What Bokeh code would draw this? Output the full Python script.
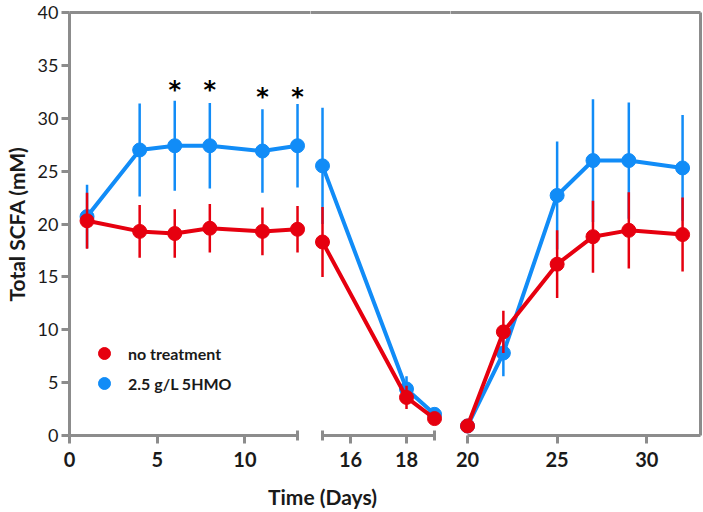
from bokeh.plotting import figure
from bokeh.layouts import row, column
from bokeh.models import (Range1d, LinearAxis, FixedTicker, Legend, LegendItem,
                          Label, ColumnDataSource)
from bokeh.core.properties import value
from bokeh.embed import file_html
from bokeh.resources import INLINE

# ---------------- data ----------------
days_seg1 = [1, 4, 6, 8, 11, 13]
days_seg2 = [15, 18, 19]
days_seg3 = [20, 22, 25, 27, 29, 32]

hmo_seg1 = [20.7, 27.0, 27.4, 27.4, 26.9, 27.4]
hmo_sd_seg1 = [3.0, 4.4, 4.25, 4.05, 3.95, 3.95]
hmo_seg2 = [25.5, 4.4, 2.0]
hmo_sd_seg2 = [5.5, 1.2, 0.3]
hmo_seg3 = [0.9, 7.8, 22.7, 26.0, 26.0, 25.3]
hmo_sd_seg3 = [0.2, 2.2, 5.1, 5.8, 5.5, 5.0]

ctrl_seg1 = [20.3, 19.3, 19.1, 19.6, 19.3, 19.5]
ctrl_sd_seg1 = [2.65, 2.5, 2.3, 2.3, 2.25, 2.2]
ctrl_seg2 = [18.3, 3.6, 1.6]
ctrl_sd_seg2 = [3.3, 1.1, 0.3]
ctrl_seg3 = [0.9, 9.8, 16.2, 18.8, 19.4, 19.0]
ctrl_sd_seg3 = [0.2, 2.0, 3.2, 3.4, 3.6, 3.5]

star_days = [6, 8, 11, 13]
star_y = [32.7, 32.7, 32.0, 32.0]

y_ticks = [0, 5, 10, 15, 20, 25, 30, 35, 40]
x_ticks_seg1 = [0, 5, 10]
x_caps_seg1 = [13]
x_ticks_seg2 = [16, 18]
x_caps_seg2 = [15, 19]
x_ticks_seg3 = [20, 25, 30]

series_names = ["no treatment", "2.5 g/L 5HMO"]

# ---------------- style ----------------
RED = "#E6000F"
BLUE = "#118CF7"
AXIS = "#8C8C8C"
TXT = "#1a1a1a"
FONT = "Lato"

yr = Range1d(0, 40)


def make_fig(width, xr, left_border, right_border, has_y):
    p = figure(width=width, height=480, x_range=Range1d(*xr), y_range=yr,
               toolbar_location=None, output_backend="svg",
               min_border_left=left_border, min_border_right=right_border,
               min_border_top=12, min_border_bottom=45,
               y_axis_location="left" if has_y else None)
    p.outline_line_color = None
    p.xgrid.visible = False
    p.ygrid.visible = False
    p.background_fill_color = "white"
    p.border_fill_color = "white"
    return p


def style_x(p, ticks, caps, bounds):
    ax = p.xaxis[0]
    ax.ticker = FixedTicker(ticks=ticks, minor_ticks=caps)
    ax.bounds = bounds
    ax.axis_line_color = AXIS
    ax.axis_line_width = 3
    ax.major_tick_line_color = AXIS
    ax.major_tick_line_width = 3
    ax.major_tick_in = 0
    ax.major_tick_out = 8
    ax.minor_tick_line_color = AXIS
    ax.minor_tick_line_width = 3
    ax.minor_tick_in = 5
    ax.minor_tick_out = 5
    ax.major_label_text_font = FONT
    ax.major_label_text_font_size = "20px"
    ax.major_label_text_font_style = "bold"
    ax.major_label_text_color = TXT
    ax.major_label_standoff = 8


def add_frame_axis(p, side):
    ax = LinearAxis(ticker=FixedTicker(ticks=[]), axis_line_color=AXIS, axis_line_width=3,
                    major_tick_line_color=None, minor_tick_line_color=None,
                    major_label_text_font_size="0px", major_tick_out=0, major_tick_in=0,
                    minor_tick_out=0, minor_tick_in=0, major_label_standoff=0)
    p.add_layout(ax, side)


def draw(p, days, mean, sd, color):
    src = ColumnDataSource(dict(x=days, y=mean,
                                lo=[m - s for m, s in zip(mean, sd)],
                                hi=[m + s for m, s in zip(mean, sd)]))
    p.segment(x0="x", y0="lo", x1="x", y1="hi", source=src, line_color=color, line_width=2.5)
    p.line("x", "y", source=src, line_color=color, line_width=4)
    return p.scatter("x", "y", source=src, size=14, fill_color=color, line_color=color)


# segment 1: 0 at x=68, 13 at x=297
p1 = make_fig(310, (0, 13.74), 68, 0, True)
# segment 2: 15 at x=322, 19 at x=434
p2 = make_fig(140, (14.571, 19.571), 0, 0, False)
# segment 3: 20 at x=467, 33 at x=700
p3 = make_fig(253, (19.05, 33.0), 0, 3, False)

style_x(p1, x_ticks_seg1, x_caps_seg1, (0, 13))
style_x(p2, x_ticks_seg2, x_caps_seg2, (15, 19))
style_x(p3, x_ticks_seg3, [], (20, 33))

for p in (p1, p2, p3):
    add_frame_axis(p, "above")
add_frame_axis(p3, "right")

ya = p1.yaxis[0]
ya.ticker = FixedTicker(ticks=y_ticks)
ya.axis_line_color = AXIS
ya.axis_line_width = 3
ya.major_tick_line_color = AXIS
ya.major_tick_line_width = 3
ya.major_tick_in = 0
ya.major_tick_out = 8
ya.minor_tick_line_color = None
ya.major_label_text_font = FONT
ya.major_label_text_font_size = "18px"
ya.major_label_text_color = TXT
ya.major_label_standoff = 3
ya.axis_label = "Total SCFA (mM)"
ya.axis_label_text_font = FONT
ya.axis_label_text_font_style = "bold"
ya.axis_label_text_font_size = "21px"
ya.axis_label_text_color = TXT
ya.axis_label_standoff = 6

# blue first, red on top
b1 = draw(p1, days_seg1, hmo_seg1, hmo_sd_seg1, BLUE)
draw(p2, days_seg2, hmo_seg2, hmo_sd_seg2, BLUE)
draw(p3, days_seg3, hmo_seg3, hmo_sd_seg3, BLUE)
r1 = draw(p1, days_seg1, ctrl_seg1, ctrl_sd_seg1, RED)
draw(p2, days_seg2, ctrl_seg2, ctrl_sd_seg2, RED)
draw(p3, days_seg3, ctrl_seg3, ctrl_sd_seg3, RED)

p1.text(x=star_days, y=star_y, text=["*"] * len(star_days), text_font=value("DejaVu Sans"),
        text_font_style="bold", text_font_size=value("24px"), text_align="center",
        text_baseline="middle", text_color="black")

legend = Legend(items=[LegendItem(label=series_names[0], renderers=[r1]),
                       LegendItem(label=series_names[1], renderers=[b1])],
                location=(20, 37), orientation="vertical",
                glyph_width=30, glyph_height=30, label_height=30, spacing=-2,
                padding=0, margin=0, border_line_color=None, background_fill_alpha=0,
                label_text_font=FONT, label_text_font_style="bold",
                label_text_font_size="16px", label_text_color=TXT, label_standoff=9)
p1.add_layout(legend)

# x-axis title strip
p4 = figure(width=703, height=32, x_range=Range1d(0, 703), y_range=Range1d(0, 32),
            toolbar_location=None, output_backend="svg", min_border=0,
            x_axis_location=None, y_axis_location=None)
p4.outline_line_color = None
p4.xgrid.visible = False
p4.ygrid.visible = False
p4.add_layout(Label(x=322, y=16, text="Time (Days)", text_font=FONT, text_font_style="bold",
                    text_font_size="21px", text_align="center", text_baseline="middle",
                    text_color=TXT))

layout = column(row(p1, p2, p3), p4)
open("out.html", "w").write(file_html(layout, INLINE))
